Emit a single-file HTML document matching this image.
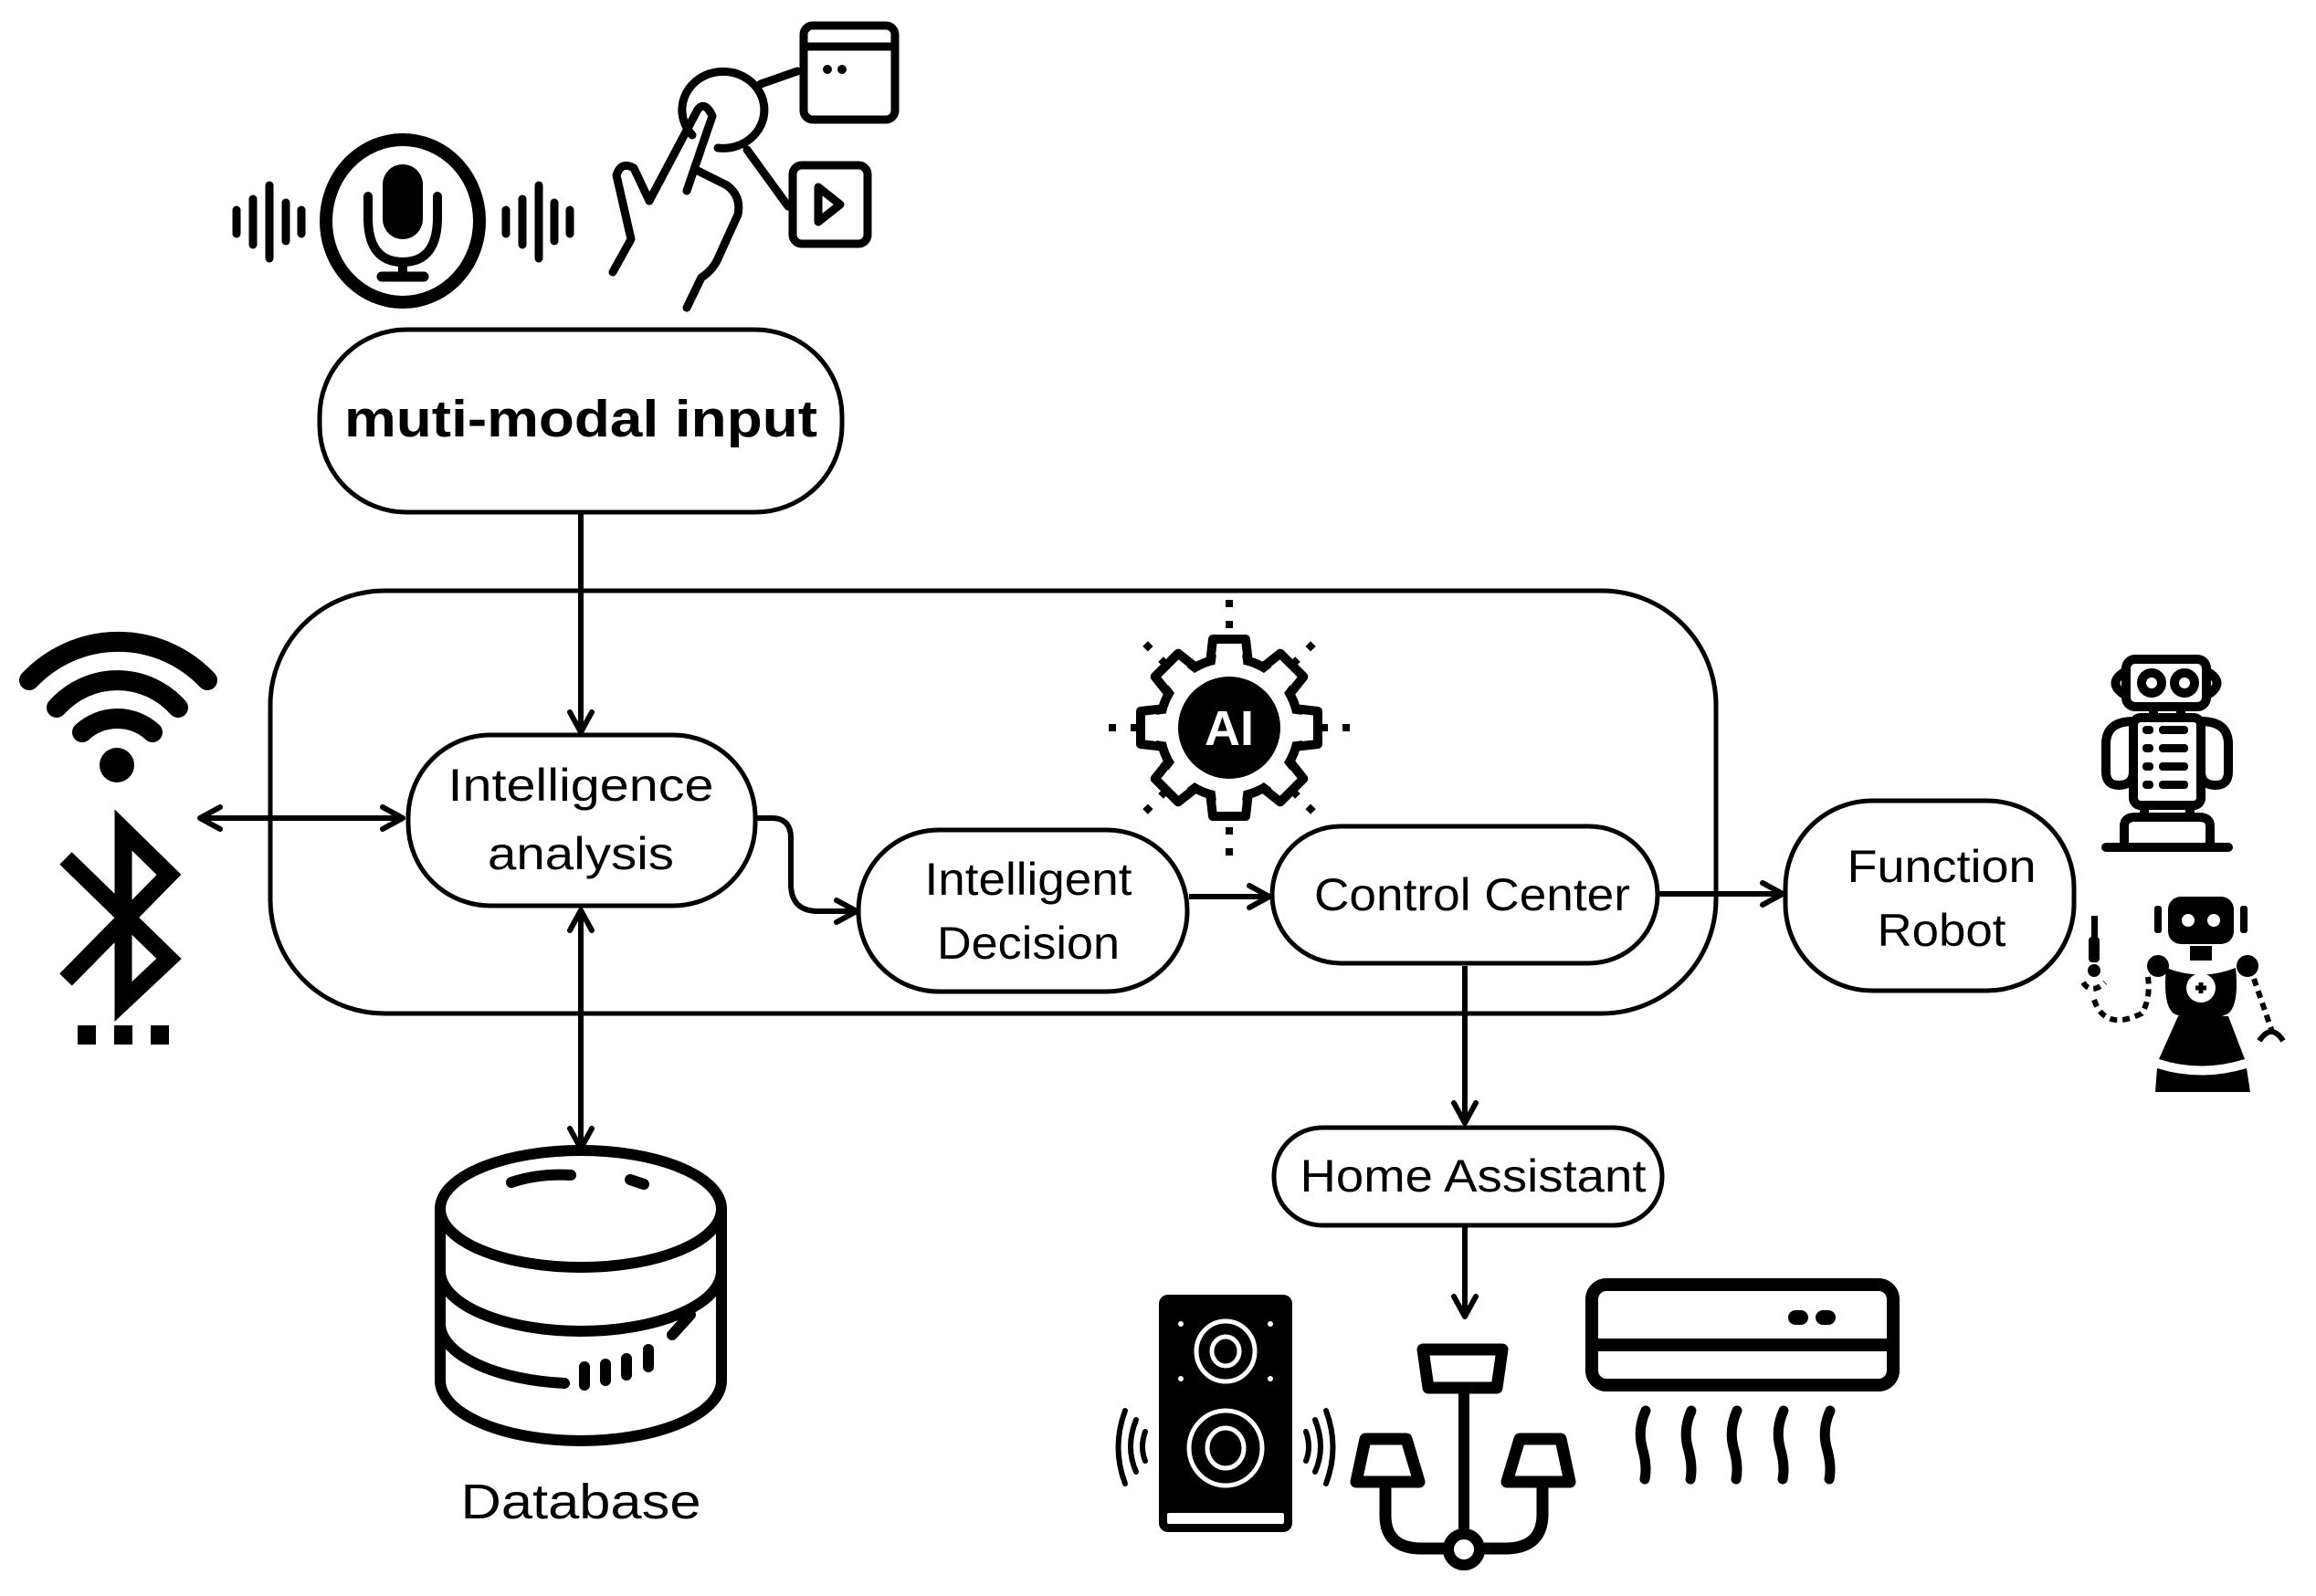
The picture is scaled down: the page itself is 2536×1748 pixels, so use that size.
<!DOCTYPE html>
<html><head><meta charset="utf-8"><style>
html,body{margin:0;padding:0;background:#fff;}
svg{display:block;}
text{font-family:"Liberation Sans",sans-serif;fill:#000;}
</style></head><body>
<svg width="2536" height="1748" viewBox="0 0 2536 1748" xmlns="http://www.w3.org/2000/svg">
<defs>
<marker id="ah2" viewBox="0 0 30 30" refX="27" refY="15" markerWidth="30" markerHeight="30" markerUnits="userSpaceOnUse" orient="auto-start-reverse">
<path d="M5,3 L27,15 L5,27" fill="none" stroke="#000" stroke-width="6" stroke-linecap="round" stroke-linejoin="round"/>
</marker>
</defs>

<rect x="296" y="647" width="1583" height="463" rx="125" fill="none" stroke="#000" stroke-width="5"/>

<g stroke="#000" stroke-width="6" fill="none">
<line x1="636" y1="561" x2="636" y2="802" marker-end="url(#ah2)"/>
<line x1="219" y1="896" x2="441" y2="896" marker-start="url(#ah2)" marker-end="url(#ah2)"/>
<line x1="636" y1="997" x2="636" y2="1258" marker-start="url(#ah2)" marker-end="url(#ah2)"/>
<path d="M827,896 H845 Q866,896 866,918 V968 Q866,998 896,998 H938" marker-end="url(#ah2)"/>
<line x1="1302" y1="982" x2="1390" y2="982" marker-end="url(#ah2)"/>
<line x1="1817" y1="979" x2="1952" y2="979" marker-end="url(#ah2)"/>
<line x1="1604" y1="1058" x2="1604" y2="1230" marker-end="url(#ah2)"/>
<line x1="1604" y1="1344" x2="1604" y2="1442" marker-end="url(#ah2)"/>
</g>

<g fill="#fff" stroke="#000" stroke-width="5">
<rect x="350" y="361" width="572" height="200" rx="95"/>
<rect x="447" y="805" width="380" height="187" rx="90"/>
<rect x="940" y="909" width="360" height="177" rx="88"/>
<rect x="1393" y="905" width="422" height="150" rx="75"/>
<rect x="1955" y="877" width="316" height="208" rx="95"/>
<rect x="1395" y="1235" width="425" height="107" rx="53"/>
</g>

<text x="636" y="478" font-size="57" font-weight="bold" text-anchor="middle" textLength="518" lengthAdjust="spacingAndGlyphs">muti-modal input</text>
<text x="636" y="877" font-size="50" text-anchor="middle" textLength="291" lengthAdjust="spacingAndGlyphs">Intelligence</text>
<text x="636" y="952" font-size="50" text-anchor="middle" textLength="204" lengthAdjust="spacingAndGlyphs">analysis</text>
<text x="1126" y="980" font-size="50" text-anchor="middle" textLength="227" lengthAdjust="spacingAndGlyphs">Intelligent</text>
<text x="1126" y="1050" font-size="50" text-anchor="middle" textLength="200" lengthAdjust="spacingAndGlyphs">Decision</text>
<text x="1612" y="997" font-size="50" text-anchor="middle" textLength="346" lengthAdjust="spacingAndGlyphs">Control Center</text>
<text x="2126" y="966" font-size="50" text-anchor="middle" textLength="207" lengthAdjust="spacingAndGlyphs">Function</text>
<text x="2126" y="1036" font-size="50" text-anchor="middle" textLength="141" lengthAdjust="spacingAndGlyphs">Robot</text>
<text x="1613" y="1305" font-size="50" text-anchor="middle" textLength="379" lengthAdjust="spacingAndGlyphs">Home Assistant</text>
<text x="636" y="1663" font-size="54" text-anchor="middle" textLength="263" lengthAdjust="spacingAndGlyphs">Database</text>

<!-- mic icon -->
<g stroke="#000" fill="none" stroke-linecap="round">
<ellipse cx="441" cy="242" rx="84" ry="89" stroke-width="14"/>
<rect x="419" y="180" width="44" height="82" rx="22" fill="#000" stroke="none"/>
<path d="M403,215 V238 Q403,287 441,287 Q479,287 479,238 V215" stroke-width="10"/>
<line x1="441" y1="287" x2="441" y2="302" stroke-width="10"/>
<line x1="418" y1="303" x2="464" y2="303" stroke-width="11"/>
<g stroke-width="9">
<line x1="259" y1="230" x2="259" y2="256"/>
<line x1="277" y1="218" x2="277" y2="268"/>
<line x1="295" y1="203" x2="295" y2="283"/>
<line x1="313" y1="222" x2="313" y2="264"/>
<line x1="330" y1="230" x2="330" y2="256"/>
<line x1="554" y1="230" x2="554" y2="256"/>
<line x1="572" y1="218" x2="572" y2="268"/>
<line x1="590" y1="203" x2="590" y2="283"/>
<line x1="607" y1="222" x2="607" y2="264"/>
<line x1="624" y1="230" x2="624" y2="256"/>
</g>
</g>

<!-- touch icon -->
<g stroke="#000" fill="none" stroke-width="9" stroke-linecap="round" stroke-linejoin="round">
<path d="M758,148 A45,42 0 1 1 786,162"/>
<path d="M711,220 L764,120 Q772,110 780,127 L752,209"/>
<path d="M671,298 L691,262 L675,192 Q680,176 694,184 L711,220"/>
<path d="M764,187 L796,203 Q812,215 808,235 L788,279 Q782,295 768,304 L752,337"/>
<line x1="833" y1="92" x2="873" y2="78"/>
<line x1="818" y1="164" x2="863" y2="226"/>
<rect x="880" y="28" width="100" height="103" rx="10"/>
<line x1="880" y1="51" x2="980" y2="51"/>
<rect x="868" y="181" width="82" height="86" rx="10"/>
<path d="M896,205 L896,243 L920,224 Z"/>
</g>
<circle cx="906" cy="76" r="5"/><circle cx="922" cy="76" r="5"/>

<!-- wifi -->
<g stroke="#000" fill="none" stroke-width="22" stroke-linecap="round">
<path d="M32,745 A134,134 0 0 1 227,745"/>
<path d="M62,775 A89,89 0 0 1 195,775"/>
<path d="M90,802 A57,57 0 0 1 167,802"/>
</g>
<circle cx="128" cy="838" r="19"/>
<path d="M72,940 L185,1050 L135,1097 L135,909 L185,958 L72,1073" fill="none" stroke="#000" stroke-width="19" stroke-linejoin="miter"/>
<rect x="85" y="1123" width="20" height="21"/><rect x="125" y="1123" width="20" height="21"/><rect x="165" y="1123" width="20" height="21"/>

<!-- AI gear -->
<g transform="translate(1346,797)">
<g id="teeth" fill="#fff" stroke="#000" stroke-width="10" stroke-linejoin="round">
<g id="t"><path d="M-18,-97 H18 L22,-62 H-22 Z"/></g>
<use href="#t" transform="rotate(45)"/><use href="#t" transform="rotate(90)"/><use href="#t" transform="rotate(135)"/>
<use href="#t" transform="rotate(180)"/><use href="#t" transform="rotate(225)"/><use href="#t" transform="rotate(270)"/><use href="#t" transform="rotate(315)"/>
</g>
<circle r="76" fill="#fff" stroke="#000" stroke-width="10"/>
<g fill="#fff" stroke="none">
<g id="t2"><path d="M-13,-88 H13 L16,-66 H-16 Z"/></g>
<use href="#t2" transform="rotate(45)"/><use href="#t2" transform="rotate(90)"/><use href="#t2" transform="rotate(135)"/>
<use href="#t2" transform="rotate(180)"/><use href="#t2" transform="rotate(225)"/><use href="#t2" transform="rotate(270)"/><use href="#t2" transform="rotate(315)"/>
</g>
<circle r="56" fill="#000"/>
<text x="0" y="19" font-size="54" font-weight="bold" text-anchor="middle" style="fill:#fff">AI</text>
<g fill="#000">
<rect x="-4" y="-140" width="8" height="8"/><rect x="-4" y="-117" width="8" height="8"/>
<rect x="-4" y="109" width="8" height="8"/><rect x="-4" y="132" width="8" height="8"/>
<rect x="-132" y="-4" width="8" height="8"/><rect x="-108" y="-4" width="8" height="8"/>
<rect x="100" y="-4" width="8" height="8"/><rect x="124" y="-4" width="8" height="8"/>
<g transform="rotate(45)"><rect x="-4" y="-130" width="8" height="8"/><rect x="-4" y="-106" width="8" height="8"/><rect x="-4" y="98" width="8" height="8"/><rect x="-4" y="122" width="8" height="8"/></g>
<g transform="rotate(-45)"><rect x="-4" y="-130" width="8" height="8"/><rect x="-4" y="-106" width="8" height="8"/><rect x="-4" y="98" width="8" height="8"/><rect x="-4" y="122" width="8" height="8"/></g>
</g>
</g>

<!-- database -->
<g stroke="#000" stroke-width="12" fill="none" stroke-linecap="round">
<path d="M482,1324 V1512 A154,66 0 0 0 790,1512 V1324"/>
<ellipse cx="636" cy="1324" rx="154" ry="64"/>
<path d="M482,1392 A154,66 0 0 0 790,1392"/>
<path d="M482,1452 A154,66 0 0 0 618,1515"/>
<path d="M560,1295 Q590,1285 625,1287"/>
<path d="M690,1292 L705,1297"/>
<line x1="640" y1="1497" x2="640" y2="1517"/>
<line x1="663" y1="1494" x2="663" y2="1512"/>
<line x1="686" y1="1488" x2="686" y2="1506"/>
<line x1="710" y1="1478" x2="710" y2="1497"/>
<line x1="736" y1="1462" x2="756" y2="1440"/>
</g>

<!-- robots -->
<g stroke="#000" stroke-width="10" fill="none" stroke-linecap="round" stroke-linejoin="round">
<rect x="2328" y="722" width="88" height="52" rx="10"/>
<path d="M2328,735 Q2305,748 2328,762"/><path d="M2416,735 Q2439,748 2416,762"/>
<circle cx="2356" cy="748" r="11"/><circle cx="2392" cy="748" r="11"/>
<line x1="2358" y1="774" x2="2358" y2="786"/><line x1="2388" y1="774" x2="2388" y2="786"/>
<rect x="2336" y="786" width="74" height="96" rx="8"/>
<path d="M2336,790 Q2306,790 2306,815 V845 Q2306,860 2320,860 Q2336,860 2336,845"/>
<path d="M2410,790 Q2440,790 2440,815 V845 Q2440,860 2426,860 Q2410,860 2410,845"/>
<line x1="2348" y1="882" x2="2348" y2="894"/><line x1="2398" y1="882" x2="2398" y2="894"/>
<path d="M2326,924 V905 Q2326,895 2338,895 H2408 Q2420,895 2420,905 V924"/>
<line x1="2306" y1="928" x2="2440" y2="928"/>
</g>
<g fill="#000">
<rect x="2346" y="795" width="12" height="9" rx="4"/><rect x="2364" y="795" width="32" height="9" rx="4"/>
<rect x="2346" y="815" width="12" height="9" rx="4"/><rect x="2364" y="815" width="32" height="9" rx="4"/>
<rect x="2346" y="835" width="12" height="9" rx="4"/><rect x="2364" y="835" width="32" height="9" rx="4"/>
<rect x="2346" y="855" width="12" height="9" rx="4"/><rect x="2364" y="855" width="32" height="9" rx="4"/>
<rect x="2374" y="982" width="72" height="52" rx="14"/>
<rect x="2359" y="992" width="8" height="30" rx="3"/><rect x="2453" y="992" width="8" height="30" rx="3"/>
<rect x="2398" y="1036" width="24" height="16"/>
<path d="M2372,1060 Q2410,1075 2448,1060 Q2452,1100 2440,1110 Q2410,1125 2380,1110 Q2368,1100 2372,1060 Z"/>
<circle cx="2363" cy="1058" r="12"/><circle cx="2461" cy="1058" r="12"/>
<path d="M2385,1113 L2440,1113 L2458,1160 Q2410,1175 2364,1160 Z"/>
<path d="M2362,1170 Q2410,1185 2460,1170 L2464,1196 L2360,1196 Z"/>
<rect x="2290" y="1003" width="7" height="25"/><rect x="2287" y="1026" width="12" height="28" rx="4"/>
<circle cx="2293" cy="1063" r="7"/>
</g>
<circle cx="2410" cy="1082" r="16" fill="#fff"/>
<path d="M2404,1082 H2416 M2410,1076 V1088" stroke="#000" stroke-width="5"/>
<circle cx="2382" cy="1052" r="3" fill="#fff"/><circle cx="2437" cy="1052" r="3" fill="#fff"/>
<circle cx="2396" cy="1008" r="7" fill="#fff"/><circle cx="2424" cy="1008" r="7" fill="#fff"/>
<g stroke="#000" stroke-width="6" fill="none" stroke-dasharray="8,6">
<path d="M2281,1076 Q2290,1090 2305,1076"/>
<path d="M2293,1095 Q2305,1130 2345,1110 Q2355,1095 2352,1070"/>
<path d="M2468,1072 L2488,1130"/>
</g>
<path d="M2474,1140 Q2487,1120 2500,1140" stroke="#000" stroke-width="6" fill="none"/>

<!-- speaker -->
<rect x="1269" y="1418" width="146" height="260" rx="10" fill="#000"/>
<rect x="1278" y="1657" width="128" height="12" rx="2" fill="#fff"/>
<g fill="none" stroke="#fff" stroke-width="5">
<ellipse cx="1342" cy="1480" rx="32" ry="33"/><ellipse cx="1342" cy="1480" rx="15" ry="16"/>
<ellipse cx="1342" cy="1586" rx="40" ry="41"/><ellipse cx="1342" cy="1586" rx="20" ry="22"/>
</g>
<g fill="#fff"><circle cx="1293" cy="1450" r="3"/><circle cx="1391" cy="1450" r="3"/><circle cx="1293" cy="1510" r="3"/><circle cx="1391" cy="1510" r="3"/></g>
<g stroke="#000" stroke-width="6" fill="none" stroke-linecap="round">
<path d="M1254,1568 Q1248,1585 1254,1600"/><path d="M1244,1555 Q1232,1585 1244,1612"/><path d="M1232,1545 Q1217,1585 1232,1625"/>
<path d="M1430,1568 Q1436,1585 1430,1600"/><path d="M1440,1555 Q1452,1585 1440,1612"/><path d="M1452,1545 Q1467,1585 1452,1625"/>
</g>

<!-- chandelier -->
<g stroke="#000" stroke-width="13" fill="none" stroke-linejoin="round">
<path d="M1558,1478 H1645 L1639,1520 H1564 Z"/>
<path d="M1495,1576 H1540 L1554,1623 H1485 Z"/>
<path d="M1664,1576 H1709 L1719,1623 H1650 Z"/>
<path d="M1517,1625 V1660 Q1517,1695 1555,1696 H1650 Q1688,1695 1689,1660 V1625"/>
</g>
<line x1="1603" y1="1520" x2="1603" y2="1680" stroke="#000" stroke-width="12"/>
<circle cx="1603" cy="1697" r="17" fill="#fff" stroke="#000" stroke-width="12"/>

<!-- AC -->
<rect x="1743" y="1407" width="330" height="110" rx="16" fill="none" stroke="#000" stroke-width="14"/>
<line x1="1743" y1="1473" x2="2073" y2="1473" stroke="#000" stroke-width="14"/>
<rect x="1958" y="1435" width="22" height="16" rx="8"/><rect x="1988" y="1435" width="22" height="16" rx="8"/>
<g stroke="#000" stroke-width="11" fill="none" stroke-linecap="round">
<path d="M1802,1545 Q1793,1565 1798,1585 Q1804,1605 1801,1620"/>
<path d="M1852,1545 Q1843,1565 1848,1585 Q1854,1605 1851,1620"/>
<path d="M1902,1545 Q1893,1565 1898,1585 Q1904,1605 1901,1620"/>
<path d="M1953,1545 Q1944,1565 1949,1585 Q1955,1605 1952,1620"/>
<path d="M2004,1545 Q1995,1565 2000,1585 Q2006,1605 2003,1620"/>
</g>
</svg>
</body></html>
